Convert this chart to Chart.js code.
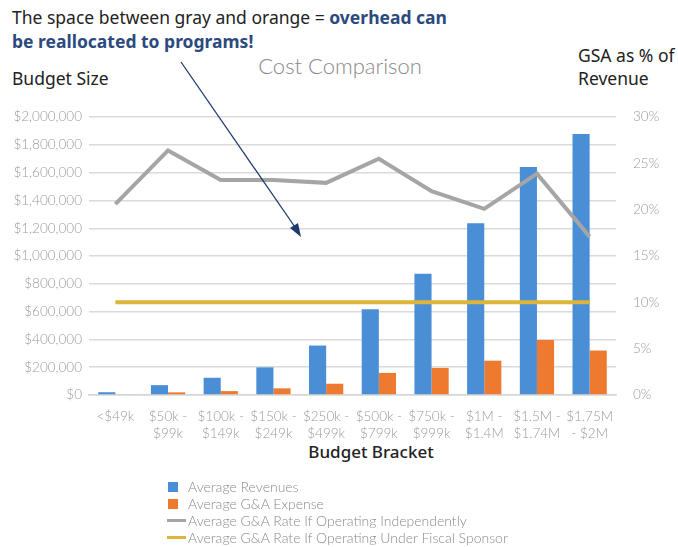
<!DOCTYPE html>
<html>
<head>
<meta charset="utf-8">
<script src="https://cdn.jsdelivr.net/npm/chart.js@4"></script>
<style>
  body { margin: 0; background: #fff; width: 678px; height: 547px; position: relative; overflow: hidden; }
  .note { position: absolute; font-family: "Noto Sans", sans-serif; color: #222; }
  #chart { position: absolute; left: 0; top: 100px; }
  #legend { position: absolute; left: 167px; top: 478px; font-family: Lato, sans-serif; font-weight: 300; font-size: 14px; color: #8a8a8a; }
  #legend div { height: 17px; line-height: 17px; display: flex; align-items: center; }
  #legend span.box { display: inline-block; width: 10px; height: 10px; margin: 0 10px 0 1px; }
  #legend span.ln { display: inline-block; width: 19px; height: 3px; margin-right: 2px; }
</style>
</head>
<body>
<div class="note" style="left:12px;top:5px;font-size:17.5px;line-height:24px;">
  The space between gray and orange = <b style="color:#2b4a7e">overhead can<br>be reallocated to programs!</b>
</div>
<div class="note" style="left:12px;top:66px;font-size:17.5px;">Budget Size</div>
<div class="note" style="left:578px;top:44px;font-size:17.5px;line-height:23px;">GSA as % of<br>Revenue</div>
<div class="note" style="left:0;width:680px;top:52px;text-align:center;font-family:Lato,sans-serif;font-weight:300;font-size:22px;color:#8a8a8a;">Cost Comparison</div>
<div class="note" style="left:0;width:742px;top:440px;text-align:center;font-size:17px;font-weight:500;">Budget Bracket</div>

<canvas id="chart" width="678" height="350"></canvas>
<svg style="position:absolute;left:0;top:0;" width="678" height="547">
  <line x1="181" y1="62" x2="297" y2="230" stroke="#1f3a6e" stroke-width="1.3"/>
  <polygon points="301,237 290,228 298,223" fill="#1f3a6e"/>
</svg>
<div id="legend"></div>

<script>
// Categories and series
const brackets = [
  ['<$49k'],
  ['$50k -', '$99k'],
  ['$100k -', '$149k'],
  ['$150k -', '$249k'],
  ['$250k -', '$499k'],
  ['$500k -', '$799k'],
  ['$750k -', '$999k'],
  ['$1M -', '$1.4M'],
  ['$1.5M -', '$1.74M'],
  ['$1.75M', '- $2M'],
];
const avgRevenues = [20000, 71000, 124000, 199000, 356000, 617000, 873000, 1236000, 1640000, 1879000];
const avgGAExpense = [5000, 19000, 28000, 48000, 81000, 159000, 195000, 247000, 396000, 320000];
const rateIndependent = [20.6, 26.4, 23.2, 23.2, 22.9, 25.5, 22.0, 20.1, 23.9, 17.1];
const rateFiscalSponsor = [10, 10, 10, 10, 10, 10, 10, 10, 10, 10];

const seriesNames = [
  'Average Revenues',
  'Average G&A Expense',
  'Average G&A Rate If Operating Independently',
  'Average G&A Rate If Operating Under Fiscal Sponsor',
];
const colors = ['#4a8fd6', '#ee7a30', '#a5a5a5', '#dcb53a'];

const tickFont = { family: 'Lato, sans-serif', size: 13.5, weight: 300 };
const tickColor = '#9a9a9a';

const chart = new Chart(document.getElementById('chart'), {
  type: 'bar',
  data: {
    labels: brackets,
    datasets: [
      { type: 'line', label: seriesNames[2], data: rateIndependent, yAxisID: 'y1',
        borderColor: colors[2], borderWidth: 4, pointRadius: 0, tension: 0, order: 0 },
      { type: 'line', label: seriesNames[3], data: rateFiscalSponsor, yAxisID: 'y1',
        borderColor: colors[3], borderWidth: 4, pointRadius: 0, tension: 0, order: 0 },
      { label: seriesNames[0], data: avgRevenues, backgroundColor: colors[0], yAxisID: 'y',
        categoryPercentage: 0.65, barPercentage: 1.0, order: 1 },
      { label: seriesNames[1], data: avgGAExpense, backgroundColor: colors[1], yAxisID: 'y',
        categoryPercentage: 0.65, barPercentage: 1.0, order: 1 },
    ],
  },
  options: {
    responsive: false,
    animation: false,
    layout: { padding: { top: 14, left: 0, right: 0, bottom: 0 } },
    plugins: { legend: { display: false }, tooltip: { enabled: false } },
    scales: {
      x: {
        grid: { display: false },
        border: { color: '#d6d6d6', width: 1.5 },
        ticks: { color: tickColor, font: { family: 'Lato, sans-serif', size: 13.5, weight: 300 }, padding: 6, maxRotation: 0, autoSkip: false },
        afterFit: (s) => { s.height = 55; },
      },
      y: {
        position: 'left',
        min: 0, max: 2000000,
        grid: { color: '#dadada', lineWidth: 1.5, drawTicks: false },
        border: { display: false },
        ticks: {
          stepSize: 200000, color: tickColor, font: tickFont, padding: 7,
          callback: (v) => '$' + v.toLocaleString('en-US'),
        },
        afterFit: (s) => { s.width = 89; },
      },
      y1: {
        position: 'right',
        min: 0, max: 30,
        grid: { display: false },
        border: { display: false },
        ticks: { stepSize: 5, color: tickColor, font: tickFont, padding: 9, callback: (v) => v + '%' },
        afterFit: (s) => { s.width = 62; },
      },
    },
  },
});

// Vertical legend, as in the reference
const legend = document.getElementById('legend');
seriesNames.forEach((name, i) => {
  const row = document.createElement('div');
  const mark = document.createElement('span');
  mark.className = i < 2 ? 'box' : 'ln';
  mark.style.background = colors[i];
  row.appendChild(mark);
  row.appendChild(document.createTextNode(name));
  legend.appendChild(row);
});
</script>
</body>
</html>
